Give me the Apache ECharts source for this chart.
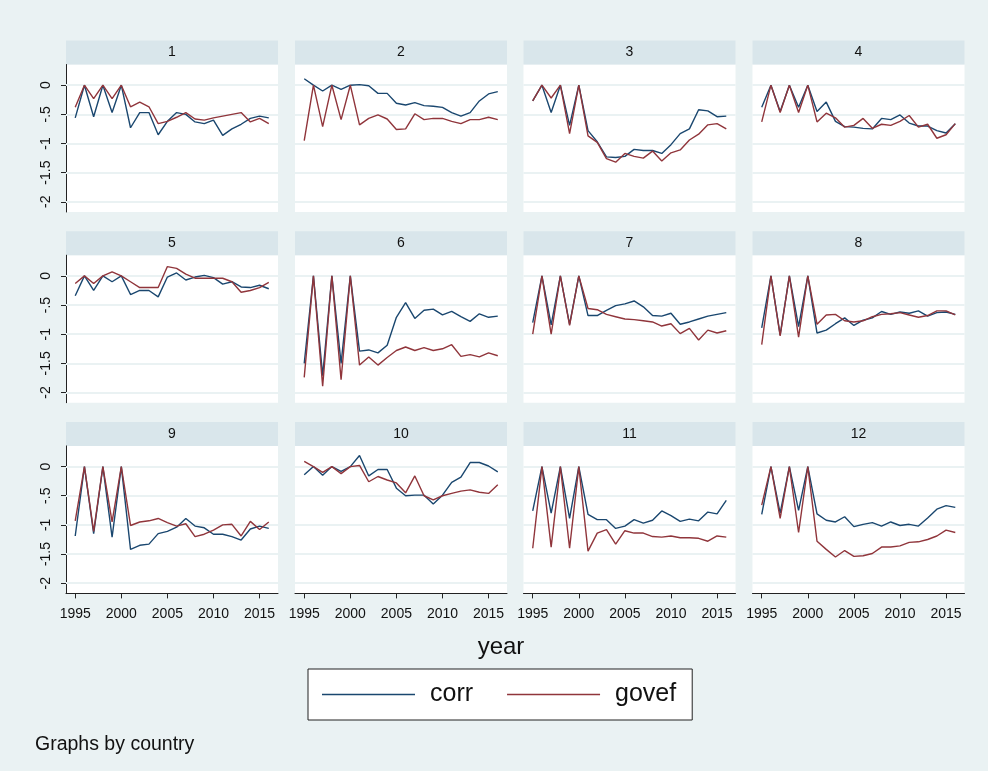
<!DOCTYPE html>
<html>
<head>
<meta charset="utf-8">
<script src="https://cdn.jsdelivr.net/npm/echarts@6/dist/echarts.min.js"></script>
<style>
  html, body { margin: 0; padding: 0; background: #eaf2f3; }
  #chart { width: 988px; height: 771px; }
</style>
</head>
<body>
<div id="chart"></div>
<script>
// Years on the horizontal axis
const years = [1995, 1996, 1997, 1998, 1999, 2000, 2001, 2002, 2003, 2004, 2005,
               2006, 2007, 2008, 2009, 2010, 2011, 2012, 2013, 2014, 2015, 2016];

// Panel (country) labels
const countries = ['1', '2', '3', '4', '5', '6', '7', '8', '9', '10', '11', '12'];

// Axis ticks and their labels
const yTicks = [0, -0.5, -1, -1.5, -2];
const yTickLabels = ['0', '-.5', '-1', '-1.5', '-2'];
const xTicks = [1995, 2000, 2005, 2010, 2015];

// corr by country
const corr1  = [-0.56, 0, -0.54, 0, -0.47, 0, -0.73, -0.47, -0.47, -0.85, -0.62, -0.47, -0.50, -0.63, -0.66, -0.60, -0.86, -0.75, -0.67, -0.57, -0.53, -0.56];
const corr2  = [0.11, 0, -0.10, 0, -0.07, 0, 0.01, -0.01, -0.14, -0.14, -0.31, -0.34, -0.30, -0.35, -0.36, -0.38, -0.47, -0.53, -0.47, -0.27, -0.15, -0.11];
const corr3  = [-0.27, 0, -0.47, 0, -0.69, 0, -0.78, -0.97, -1.23, -1.24, -1.22, -1.10, -1.12, -1.12, -1.17, -1.02, -0.83, -0.75, -0.42, -0.44, -0.54, -0.53];
const corr4  = [-0.38, 0, -0.45, 0, -0.38, 0, -0.45, -0.29, -0.62, -0.71, -0.72, -0.74, -0.75, -0.57, -0.59, -0.51, -0.65, -0.70, -0.70, -0.78, -0.82, -0.66];
const corr5  = [-0.34, 0, -0.25, 0, -0.10, 0, -0.32, -0.25, -0.25, -0.36, -0.02, 0.05, -0.07, -0.02, 0.01, -0.03, -0.14, -0.10, -0.19, -0.20, -0.16, -0.22];
const corr6  = [-1.50, 0, -1.71, 0, -1.50, 0, -1.29, -1.27, -1.32, -1.19, -0.71, -0.46, -0.73, -0.59, -0.57, -0.67, -0.61, -0.70, -0.78, -0.65, -0.71, -0.69];
const corr7  = [-0.80, 0, -0.84, 0, -0.83, 0, -0.68, -0.68, -0.59, -0.51, -0.48, -0.43, -0.53, -0.68, -0.69, -0.64, -0.83, -0.79, -0.74, -0.69, -0.66, -0.63];
const corr8  = [-0.89, 0, -1.01, 0, -0.87, 0, -0.98, -0.93, -0.82, -0.72, -0.85, -0.76, -0.72, -0.61, -0.66, -0.62, -0.64, -0.60, -0.69, -0.63, -0.62, -0.66];
const corr9  = [-1.19, 0, -1.15, 0, -1.21, 0, -1.42, -1.35, -1.33, -1.15, -1.11, -1.04, -0.89, -1.02, -1.05, -1.16, -1.16, -1.20, -1.26, -1.07, -1.02, -1.06];
const corr10 = [-0.14, 0, -0.15, 0, -0.08, 0, 0.19, -0.16, -0.05, -0.05, -0.37, -0.50, -0.49, -0.49, -0.64, -0.49, -0.27, -0.18, 0.07, 0.07, 0.01, -0.09];
const corr11 = [-0.76, 0, -0.80, 0, -0.89, 0, -0.82, -0.91, -0.91, -1.06, -1.02, -0.91, -0.97, -0.92, -0.76, -0.84, -0.94, -0.90, -0.93, -0.78, -0.81, -0.58];
const corr12 = [-0.82, 0, -0.80, 0, -0.75, 0, -0.81, -0.92, -0.95, -0.86, -1.03, -0.99, -0.96, -1.02, -0.95, -1.01, -0.99, -1.02, -0.88, -0.73, -0.67, -0.70];

// govef by country
const govef1  = [-0.38, 0, -0.23, 0, -0.23, 0, -0.37, -0.29, -0.37, -0.66, -0.62, -0.55, -0.47, -0.58, -0.60, -0.56, -0.53, -0.50, -0.47, -0.63, -0.57, -0.66];
const govef2  = [-0.95, 0, -0.71, 0, -0.59, 0, -0.68, -0.57, -0.51, -0.58, -0.76, -0.75, -0.49, -0.59, -0.57, -0.57, -0.62, -0.66, -0.59, -0.59, -0.55, -0.59];
const govef3  = [-0.27, 0, -0.22, 0, -0.83, 0, -0.87, -0.98, -1.26, -1.32, -1.17, -1.22, -1.25, -1.13, -1.30, -1.16, -1.11, -0.94, -0.84, -0.68, -0.66, -0.75];
const govef4  = [-0.63, 0, -0.47, 0, -0.47, 0, -0.63, -0.48, -0.56, -0.72, -0.69, -0.57, -0.74, -0.67, -0.69, -0.62, -0.52, -0.72, -0.67, -0.91, -0.85, -0.66];
const govef5  = [-0.13, 0, -0.13, 0, 0.07, 0, -0.10, -0.20, -0.20, -0.20, 0.16, 0.13, 0.03, -0.04, -0.04, -0.04, -0.04, -0.10, -0.28, -0.25, -0.20, -0.11];
const govef6  = [-1.74, 0, -1.89, 0, -1.78, 0, -1.53, -1.39, -1.53, -1.40, -1.28, -1.22, -1.28, -1.23, -1.28, -1.25, -1.18, -1.38, -1.35, -1.39, -1.32, -1.37];
const govef7  = [-1.00, 0, -1.00, 0, -0.85, 0, -0.56, -0.58, -0.66, -0.70, -0.74, -0.75, -0.77, -0.79, -0.86, -0.82, -0.99, -0.90, -1.10, -0.93, -0.98, -0.94];
const govef8  = [-1.18, 0, -1.03, 0, -1.05, 0, -0.83, -0.67, -0.66, -0.77, -0.79, -0.77, -0.70, -0.66, -0.65, -0.63, -0.67, -0.71, -0.68, -0.60, -0.60, -0.67];
const govef9  = [-0.93, 0, -1.11, 0, -0.95, 0, -1.01, -0.95, -0.93, -0.89, -0.96, -1.02, -0.98, -1.20, -1.16, -1.09, -1.00, -0.99, -1.19, -0.94, -1.08, -0.95];
const govef10 = [0.09, 0, -0.10, 0, -0.12, 0, 0.02, -0.26, -0.17, -0.23, -0.28, -0.45, -0.16, -0.50, -0.57, -0.50, -0.46, -0.42, -0.40, -0.44, -0.46, -0.31];
const govef11 = [-1.40, 0, -1.38, 0, -1.40, 0, -1.45, -1.14, -1.08, -1.33, -1.10, -1.14, -1.14, -1.20, -1.21, -1.19, -1.22, -1.22, -1.23, -1.28, -1.19, -1.21];
const govef12 = [-0.66, 0, -0.89, 0, -1.13, 0, -1.28, -1.42, -1.55, -1.44, -1.54, -1.53, -1.49, -1.38, -1.38, -1.36, -1.30, -1.29, -1.25, -1.19, -1.09, -1.13];

const corrByCountry  = [corr1, corr2, corr3, corr4, corr5, corr6, corr7, corr8, corr9, corr10, corr11, corr12];
const govefByCountry = [govef1, govef2, govef3, govef4, govef5, govef6, govef7, govef8, govef9, govef10, govef11, govef12];

// Layout of the 4 x 3 panel grid
const FONT = "'Liberation Sans', Arial, Helvetica, sans-serif";
const COL_LEFT = [66, 295, 523.5, 752.5];
const PLOT_W = 212;
const ROW_TOP = [64.5, 255.2, 445.9];
const PLOT_H = 147.5;
const HEAD_H = 24;
const COLOR_CORR = '#1a476f';
const COLOR_GOVEF = '#90353b';
const GRID_COLOR = '#eaf2f3';

function yLabel(v) {
  for (let k = 0; k < yTicks.length; k++) {
    if (Math.abs(yTicks[k] - v) < 1e-9) return yTickLabels[k];
  }
  return '';
}

const grids = [], xAxes = [], yAxes = [], series = [], graphics = [];

countries.forEach((name, i) => {
  const r = Math.floor(i / 4), c = i % 4;
  const left = COL_LEFT[c], top = ROW_TOP[r];
  const bottomRow = r === 2, firstCol = c === 0;

  grids.push({
    left: left, top: top, width: PLOT_W, height: PLOT_H,
    show: true, backgroundColor: '#ffffff', borderWidth: 0
  });

  xAxes.push({
    gridIndex: i, type: 'value', min: 1994, max: 2017,
    axisLine: { show: bottomRow, onZero: false, lineStyle: { color: '#222', width: 1 } },
    axisTick: { show: bottomRow, customValues: xTicks, length: 5, lineStyle: { color: '#222' } },
    axisLabel: {
      show: bottomRow, customValues: xTicks, fontSize: 14, fontFamily: FONT,
      color: '#111', margin: 14, formatter: v => String(v)
    },
    splitLine: { show: false }
  });

  yAxes.push({
    gridIndex: i, type: 'value', min: -2.175, max: 0.355,
    axisLine: { show: firstCol, onZero: false, lineStyle: { color: '#222', width: 1 } },
    axisTick: { show: firstCol, customValues: yTicks, length: 5, lineStyle: { color: '#222' } },
    axisLabel: {
      show: firstCol, customValues: yTicks, rotate: 90, fontSize: 14,
      fontFamily: FONT, color: '#111', margin: 13, formatter: yLabel
    },
    splitLine: { show: false }
  });

  // Horizontal grid lines at the labelled y values, kept beneath the data lines
  series.push({
    type: 'line', xAxisIndex: i, yAxisIndex: i, data: [], silent: true, z: 1,
    markLine: {
      silent: true, symbol: ['none', 'none'], animation: false, z: 1,
      label: { show: false },
      lineStyle: { color: GRID_COLOR, width: 2, type: 'solid' },
      emphasis: { disabled: true },
      data: yTicks.map(v => ({ yAxis: v }))
    }
  });

  series.push({
    name: 'corr', type: 'line', xAxisIndex: i, yAxisIndex: i, z: 4,
    symbol: 'none', animation: false,
    lineStyle: { color: COLOR_CORR, width: 1.4 }, itemStyle: { color: COLOR_CORR },
    data: years.map((y, k) => [y, corrByCountry[i][k]])
  });
  series.push({
    name: 'govef', type: 'line', xAxisIndex: i, yAxisIndex: i, z: 4,
    symbol: 'none', animation: false,
    lineStyle: { color: COLOR_GOVEF, width: 1.4 }, itemStyle: { color: COLOR_GOVEF },
    data: years.map((y, k) => [y, govefByCountry[i][k]])
  });

  // Panel header strip with the country label
  graphics.push({
    type: 'rect', left: left, top: top - HEAD_H, silent: true,
    shape: { width: PLOT_W, height: HEAD_H },
    style: { fill: '#d9e6eb' }
  });
  graphics.push({
    type: 'text', x: left + PLOT_W / 2, y: top - HEAD_H / 2, silent: true,
    style: { text: name, fill: '#111', font: '14px ' + FONT, align: 'center', verticalAlign: 'middle' }
  });
});

// Common axis title and note
graphics.push({
  type: 'text', x: 501, y: 647, silent: true,
  style: { text: 'year', fill: '#111', font: '24px ' + FONT, align: 'center', verticalAlign: 'middle' }
});
graphics.push({
  type: 'text', x: 35, y: 745, silent: true,
  style: { text: 'Graphs by country', fill: '#111', font: '19.5px ' + FONT, align: 'left', verticalAlign: 'middle' }
});

const chart = echarts.init(document.getElementById('chart'), null, { renderer: 'canvas' });
chart.setOption({
  backgroundColor: '#eaf2f3',
  animation: false,
  grid: grids,
  xAxis: xAxes,
  yAxis: yAxes,
  series: series,
  graphic: graphics,
  legend: {
    data: ['corr', 'govef'],
    left: 308, top: 669,
    orient: 'horizontal',
    icon: 'rect',
    itemWidth: 93, itemHeight: 1.6, itemGap: 34,
    padding: [10, 16, 10, 14],
    backgroundColor: '#ffffff',
    borderColor: '#222', borderWidth: 1, borderRadius: 0,
    selectedMode: false,
    textStyle: { fontSize: 25, fontFamily: FONT, color: '#111', padding: [0, 0, 0, 10], lineHeight: 31 }
  }
});
</script>
</body>
</html>
